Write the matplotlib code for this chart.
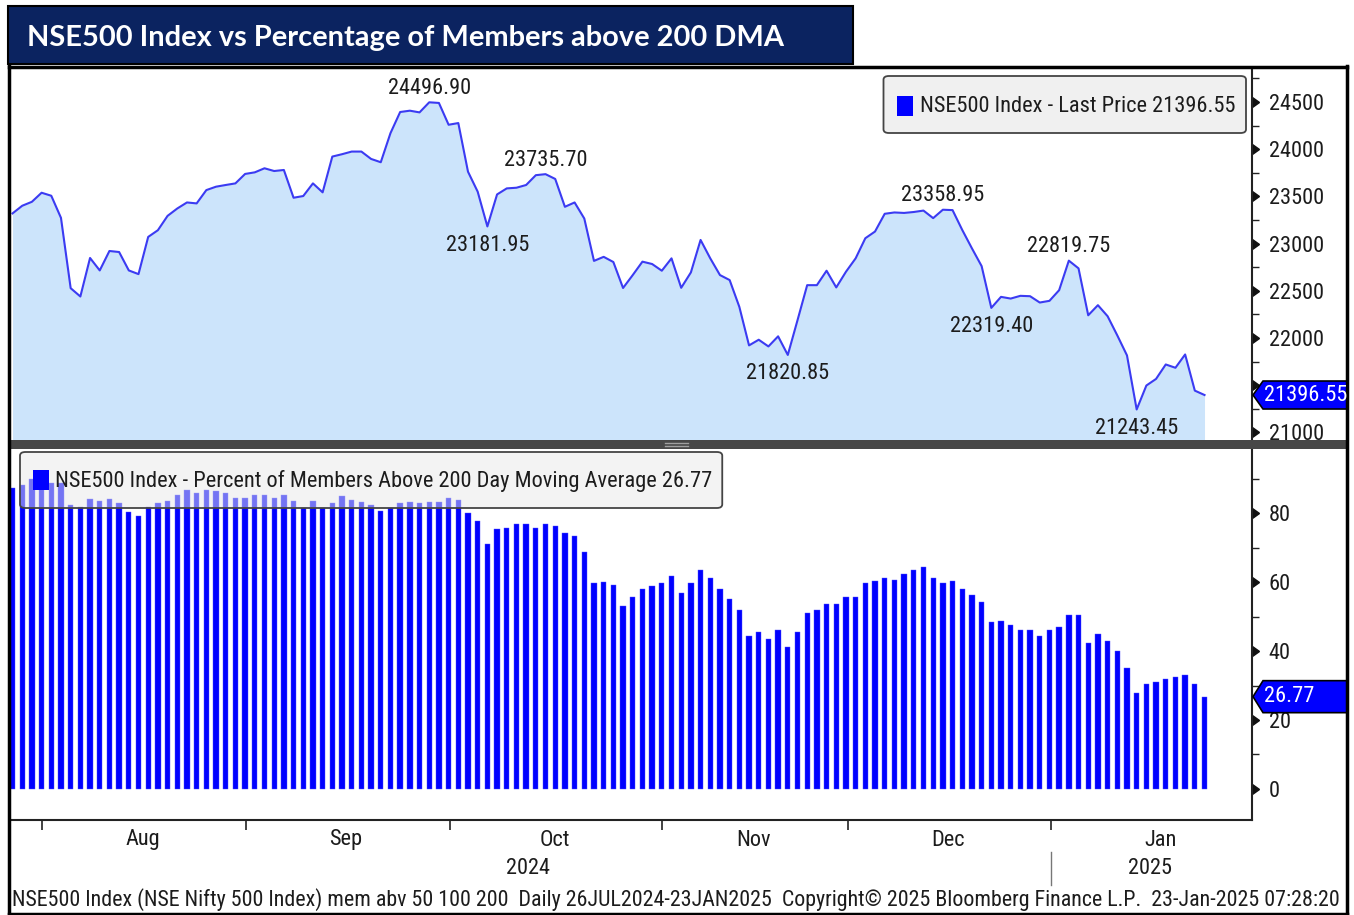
import numpy as np
import matplotlib
matplotlib.use('Agg')
import matplotlib.pyplot as plt
from matplotlib import font_manager
from matplotlib.patches import Rectangle, FancyBboxPatch, Polygon
from matplotlib.lines import Line2D
from matplotlib.transforms import blended_transform_factory

# NSE500 收盘价 (26JUL2024 - 23JAN2025, 交易日)
close = [
    23320, 23401, 23443, 23539, 23507, 23273, 22528, 22440, 22848, 22716,
    22922, 22911, 22716, 22677, 23071, 23142, 23294, 23372, 23436, 23426,
    23567, 23603, 23621, 23638, 23738, 23755, 23798, 23769, 23780, 23486,
    23504, 23638, 23543, 23922, 23947, 23975, 23975, 23897, 23862, 24170,
    24394, 24408, 24390, 24496.90, 24490, 24259, 24277, 23762, 23550, 23181.95,
    23521, 23585, 23592, 23621, 23725, 23735.70, 23685, 23390, 23436, 23266,
    22817, 22860, 22805, 22530, 22667, 22809, 22784, 22713, 22844, 22532,
    22695, 23039, 22844, 22667, 22614, 22330, 21922, 21982, 21911, 22018,
    21820.85, 22188, 22560, 22560, 22713, 22536, 22702, 22844, 23057, 23128,
    23316, 23330, 23325, 23335, 23350, 23270, 23358.95, 23355, 23145, 22950,
    22762, 22319.40, 22436, 22418, 22447, 22443, 22376, 22394, 22507, 22819.75,
    22738, 22241, 22348, 22231, 22028, 21816, 21243.45, 21497, 21567, 21720,
    21685, 21826, 21443, 21396.55,
]

# 200 日均线以上成分股占比 (%)
pct = [
    87.2, 88.2, 89.8, 89.6, 88.6, 88.6, 82.3, 81.7, 84.0, 83.5,
    84.0, 83.0, 80.3, 79.1, 81.7, 83.0, 83.5, 85.2, 86.7, 85.8,
    86.7, 86.5, 85.8, 84.5, 84.5, 85.2, 85.2, 84.5, 85.2, 83.5,
    81.5, 83.4, 81.4, 82.8, 84.9, 83.8, 83.3, 82.3, 80.7, 81.4,
    82.8, 83.3, 82.8, 83.3, 83.3, 84.3, 83.8, 80.1, 77.8, 71.0,
    75.3, 75.8, 76.8, 76.8, 75.8, 76.8, 76.2, 74.1, 73.5, 68.8,
    59.6, 60.1, 59.1, 53.1, 55.8, 58.0, 59.0, 59.6, 61.7, 56.9,
    59.6, 63.4, 61.3, 58.0, 55.2, 52.0, 44.5, 45.5, 43.4, 46.0,
    41.2, 45.5, 51.0, 52.0, 53.7, 53.7, 55.8, 55.8, 59.6, 60.2,
    61.3, 60.7, 62.3, 63.4, 64.5, 61.3, 59.6, 60.2, 58.0, 56.3,
    54.2, 48.3, 48.7, 47.7, 46.0, 46.0, 44.5, 46.0, 47.1, 50.4,
    50.4, 42.2, 45.0, 42.8, 40.1, 35.1, 27.7, 30.3, 30.9, 31.9,
    32.5, 33.0, 30.3, 26.77,
]

# 月份分界 (交易日序号) 与标签
month_edges = [3.04, 24.1, 45.15, 67.0, 86.2, 107.2]
month_pos = [13.4, 34.4, 56.0, 76.5, 96.5, 118.5]
month_names = ['Aug', 'Sep', 'Oct', 'Nov', 'Dec', 'Jan']
year_pos = [53.2, 117.4]
year_names = ['2024', '2025']

# 标注的高点 / 低点
peak_idx = [43, 55, 96, 109]
trough_idx = [49, 80, 101, 116]

price_ticks = [21000, 21500, 22000, 22500, 23000, 23500, 24000, 24500]
pct_ticks = [0, 20, 40, 60, 80]

title = 'NSE500 Index vs Percentage of Members above 200 DMA'
legend_top = 'NSE500 Index - Last Price 21396.55'
legend_bot = 'NSE500 Index - Percent of Members Above 200 Day Moving Average 26.77'
footer = ('NSE500 Index (NSE Nifty 500 Index) mem abv 50 100 200  Daily 26JUL2024-23JAN2025  '
          'Copyright\u00a9 2025 Bloomberg Finance L.P.  23-Jan-2025 07:28:20')


def pick_font():
    # Bloomberg 风格的窄字体，按可用情况选择
    fl = font_manager.fontManager.ttflist
    names = {f.name for f in fl}
    for n in ['Liberation Sans Narrow', 'DejaVu Sans Condensed', 'Noto Sans Condensed',
              'Roboto Condensed', 'Open Sans Condensed']:
        if n in names:
            return n, 'normal'
    for fam in ['DejaVu Sans', 'Noto Sans', 'Roboto', 'Open Sans']:
        for f in fl:
            if f.name == fam and str(f.stretch) in ('condensed', 'semi-condensed'):
                return fam, str(f.stretch)
    return 'Liberation Sans', 'normal'


fam, stretch = pick_font()
plt.rcParams['font.family'] = [fam, 'DejaVu Sans']
plt.rcParams['font.stretch'] = stretch
TXT = '#1c1c1c'

W, H = 1354, 915
fig = plt.figure(figsize=(W / 100, H / 100), dpi=100)

# 按数字宽度 (约 11 px) 确定字号
probe = fig.text(0, 0, '0123456789', fontsize=10)
fig.canvas.draw()
dw = probe.get_window_extent(fig.canvas.get_renderer()).width / 10
probe.remove()
fs = 10 * 11.0 / dw


def fxy(x, y):
    return (x / W, 1 - y / H)


x = np.arange(len(close))
xlim = (-0.26, 127.9)

# 上图: 指数走势
ax1 = fig.add_axes([10 / W, 1 - 440 / H, 1242 / W, 370 / H])
ax1.fill_between(x, close, 20000, color='#cce4fb', lw=0)
ax1.plot(x, close, color='#3b3bf2', lw=1.5)
ax1.set_xlim(*xlim)
ax1.set_ylim(20920, 24839)
ax1.set_xticks([])
ax1.yaxis.tick_right()
ax1.set_yticks(price_ticks)
ax1.set_yticklabels([str(v) if abs(v - close[-1]) > 150 else '' for v in price_ticks])
ax1.set_yticks([v + 250 for v in price_ticks], minor=True)
ax1.tick_params(axis='y', which='major', length=0, pad=12, labelsize=fs, labelcolor=TXT)
ax1.tick_params(axis='y', which='minor', length=5, width=1, color='#222')
for s in ['left', 'top', 'bottom']:
    ax1.spines[s].set_visible(False)
ax1.spines['right'].set_color('#222')
ax1.spines['right'].set_linewidth(1.5)
tr1 = blended_transform_factory(ax1.transAxes, ax1.transData)
ax1.plot([1] * len(price_ticks), price_ticks, ls='none', marker=9, ms=7,
         color='#111', transform=tr1, clip_on=False)

for i in peak_idx:
    ax1.annotate(f'{close[i]:.2f}', (i, close[i]), xytext=(0, 14), textcoords='offset pixels',
                 ha='center', va='center', fontsize=fs, color=TXT)
for i in trough_idx:
    ax1.annotate(f'{close[i]:.2f}', (i, close[i]), xytext=(0, -19), textcoords='offset pixels',
                 ha='center', va='center', fontsize=fs, color=TXT)

# 下图: 200 日均线以上占比
ax2 = fig.add_axes([10 / W, 1 - 820 / H, 1242 / W, 371 / H])
ax2.bar(x, pct, width=0.55, color='#0000ff', edgecolor='#5050ff', lw=0.3)
ax2.set_xlim(*xlim)
ax2.set_ylim(-9.0, 98.6)
ax2.yaxis.tick_right()
ax2.set_yticks(pct_ticks)
ax2.set_yticks([v + 10 for v in pct_ticks], minor=True)
ax2.tick_params(axis='y', which='major', length=0, pad=12, labelsize=fs, labelcolor=TXT)
ax2.tick_params(axis='y', which='minor', length=5, width=1, color='#222')
ax2.set_xticks(month_edges)
ax2.tick_params(axis='x', which='major', length=7, width=1.2, color='#222', labelbottom=False)
for s in ['left', 'top']:
    ax2.spines[s].set_visible(False)
for s in ['right', 'bottom']:
    ax2.spines[s].set_color('#222')
    ax2.spines[s].set_linewidth(1.5)
tr2 = blended_transform_factory(ax2.transAxes, ax2.transData)
ax2.plot([1] * len(pct_ticks), pct_ticks, ls='none', marker=9, ms=7,
         color='#111', transform=tr2, clip_on=False)

trx = blended_transform_factory(ax2.transData, fig.transFigure)
for p, m in zip(month_pos, month_names):
    ax2.text(p, 1 - 840 / H, m, transform=trx, ha='center', va='center', fontsize=fs, color=TXT)
for p, yname in zip(year_pos, year_names):
    ax2.text(p, 1 - 868 / H, yname, transform=trx, ha='center', va='center', fontsize=fs, color=TXT)
ax2.add_line(Line2D([month_edges[-1]] * 2, [1 - 852 / H, 1 - 885 / H], transform=trx,
                    color='#777', lw=1, clip_on=False))

# 面板分隔条
fig.add_artist(Rectangle(fxy(10, 449), 1337 / W, 9 / H, transform=fig.transFigure,
                         facecolor='#474747', edgecolor='none', zorder=5))
for yy in (443, 446):
    fig.add_artist(Line2D([665 / W, 688 / W], [1 - yy / H] * 2, color='#a0a0a0', lw=1, zorder=6))

# 外框
frame_kw = dict(color='#000', lw=2.5, zorder=8)
fig.add_artist(Line2D([9 / W, 9 / W], [1 - 66 / H, 0], **frame_kw))
fig.add_artist(Line2D([1347 / W, 1347 / W], [1 - 66 / H, 0], **frame_kw))
fig.add_artist(Line2D([9 / W, 1347 / W], [1 - 67 / H] * 2, **frame_kw))
fig.add_artist(Line2D([9 / W, 1347 / W], [1 - 914 / H] * 2, **frame_kw))

# 标题栏
fig.add_artist(Rectangle(fxy(8, 64), 845 / W, 58 / H, transform=fig.transFigure,
                         facecolor='#0b2360', edgecolor='#000', lw=1.5, zorder=9))
title_font = 'Lato' if any(f.name == 'Lato' for f in font_manager.fontManager.ttflist) else 'DejaVu Sans'
t_title = fig.text(27 / W, 1 - 38 / H, title, color='white', fontsize=20, fontweight='bold',
                   family=[title_font, 'DejaVu Sans'], stretch='normal', ha='left', va='center', zorder=10)

# 图例
t_top = fig.text(1235 / W, 1 - 107 / H, legend_top, ha='right', va='center', fontsize=fs,
                 color=TXT, zorder=12)
t_bot = fig.text(55 / W, 1 - 481 / H, legend_bot, ha='left', va='center', fontsize=fs,
                 color=TXT, zorder=12)
t_foot = fig.text(12 / W, 1 - 900 / H, footer, ha='left', va='center', fontsize=fs,
                  color=TXT, zorder=12)

fig.canvas.draw()
rend = fig.canvas.get_renderer()

# 标题与脚注按参考宽度缩放
bb = t_title.get_window_extent(rend)
t_title.set_fontsize(20 * 758 / bb.width)
bb = t_foot.get_window_extent(rend)
t_foot.set_fontsize(fs * 1330 / bb.width)

bb = t_top.get_window_extent(rend)
left = bb.x0 - 36
fig.add_artist(FancyBboxPatch((left / W, 1 - 133 / H), (1246 - left) / W, 57 / H,
                              boxstyle='round,pad=0,rounding_size=0.004', transform=fig.transFigure,
                              facecolor='#f0f0f0', edgecolor='#444', lw=1.3, zorder=11))
fig.add_artist(Rectangle(((bb.x0 - 23) / W, 1 - 116 / H), 16 / W, 20 / H, transform=fig.transFigure,
                         facecolor='#0000ff', edgecolor='none', zorder=12))

bb = t_bot.get_window_extent(rend)
right = bb.x1 + 10
fig.add_artist(FancyBboxPatch((20 / W, 1 - 508 / H), (right - 20) / W, 56 / H,
                              boxstyle='round,pad=0,rounding_size=0.004', transform=fig.transFigure,
                              facecolor='#e8e8e8', alpha=0.5, edgecolor='none', zorder=11))
fig.add_artist(FancyBboxPatch((20 / W, 1 - 508 / H), (right - 20) / W, 56 / H,
                              boxstyle='round,pad=0,rounding_size=0.004', transform=fig.transFigure,
                              facecolor='none', edgecolor='#444', lw=1.3, zorder=11))
fig.add_artist(Rectangle((33 / W, 1 - 490 / H), 16 / W, 20 / H, transform=fig.transFigure,
                         facecolor='#0000ff', edgecolor='none', zorder=12))


# 最新值标签
def last_tag(ax, val, text, half):
    yd = ax.transData.transform((0, val))[1]
    pts = [(1253, yd), (1263, yd + half), (1348, yd + half), (1348, yd - half), (1263, yd - half)]
    pts = [(px / W, py / H) for px, py in pts]
    fig.add_artist(Polygon(pts, closed=True, transform=fig.transFigure, facecolor='#0000ff',
                           edgecolor='#000', lw=1.2, zorder=7))
    fig.text(1264 / W, yd / H, text, color='white', fontsize=fs, ha='left', va='center', zorder=8)


last_tag(ax1, close[-1], f'{close[-1]:.2f}', 14)
last_tag(ax2, pct[-1], f'{pct[-1]:.2f}', 16)

fig.savefig('out.png', dpi=100)
